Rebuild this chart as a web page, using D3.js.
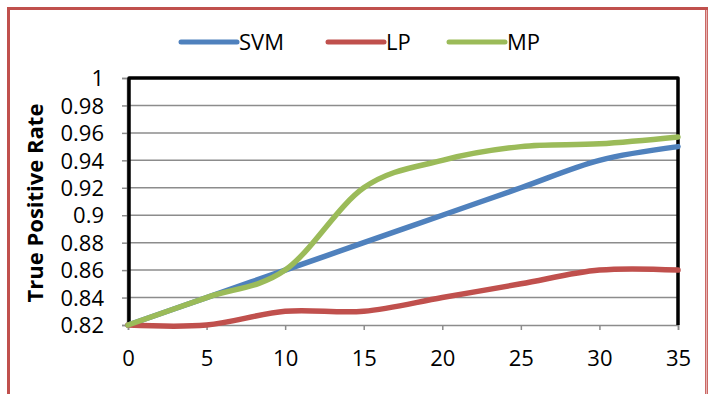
<!DOCTYPE html>
<html>
<head>
<meta charset="utf-8">
<script src="https://cdn.jsdelivr.net/npm/d3@7"></script>
<style>
  html, body { margin: 0; padding: 0; background: #fff; }
  svg { display: block; }
  text { font-family: "Open Sans", "Liberation Sans", sans-serif; fill: #000; }
</style>
</head>
<body>
<svg id="chart" width="708" height="394"></svg>
<script>
// Detection rate versus step count for three classifiers
const xValues = [0, 5, 10, 15, 20, 25, 30, 35];
const svmValues = [0.82, 0.84, 0.86, 0.88, 0.90, 0.92, 0.94, 0.95];
const lpValues  = [0.82, 0.82, 0.83, 0.83, 0.84, 0.85, 0.86, 0.86];
const mpValues  = [0.82, 0.84, 0.86, 0.92, 0.94, 0.95, 0.952, 0.957];
const seriesNames = ["SVM", "LP", "MP"];
const seriesColors = ["#4F81BD", "#C0504D", "#9BBB59"];
const yTicks = [0.82, 0.84, 0.86, 0.88, 0.9, 0.92, 0.94, 0.96, 0.98, 1];
const xTicks = [0, 5, 10, 15, 20, 25, 30, 35];
const yTitle = "True Positive Rate";

const seriesList = [svmValues, lpValues, mpValues];

const svg = d3.select("#chart");

// outer frame
svg.append("rect")
  .attr("x", 8.5).attr("y", 8.5)
  .attr("width", 698).attr("height", 400)
  .attr("fill", "none")
  .attr("stroke", "#C0504D")
  .attr("stroke-width", 3);
svg.append("line")
  .attr("x1", 706.5).attr("x2", 706.5).attr("y1", 10).attr("y2", 394)
  .attr("stroke", "#e8b4b3").attr("stroke-width", 1.5);

const plotL = 128, plotR = 678, plotT = 78, plotB = 325;

const x = d3.scaleLinear().domain([0, 35]).range([plotL, plotR]);
const y = d3.scaleLinear().domain([0.82, 1]).range([plotB, plotT]);

// horizontal gridlines
svg.append("g")
  .selectAll("line")
  .data(yTicks.slice(1))
  .join("line")
  .attr("x1", plotL).attr("x2", plotR)
  .attr("y1", d => y(d)).attr("y2", d => y(d))
  .attr("stroke", "#8c8c8c").attr("stroke-width", 1.5);

// y axis
const yAxis = svg.append("g")
  .attr("transform", `translate(${plotL - 1},0)`)
  .call(d3.axisLeft(y).tickValues(yTicks).tickFormat(d3.format("")).tickSize(5).tickPadding(18));
yAxis.select(".domain").attr("stroke", "#8c8c8c").attr("stroke-width", 1.5);
yAxis.selectAll(".tick line").attr("stroke", "#8c8c8c").attr("stroke-width", 1.5);
yAxis.selectAll(".tick text")
  .style("font-family", "'Open Sans', sans-serif")
  .style("font-size", "22px")
  .attr("dy", "0.35em")
  .attr("fill", "#000");

// x axis
const xAxis = svg.append("g")
  .attr("transform", `translate(0,${plotB})`)
  .call(d3.axisBottom(x).tickValues(xTicks).tickFormat(d3.format("d")).tickSize(5).tickPadding(20));
xAxis.select(".domain").attr("stroke", "#8c8c8c").attr("stroke-width", 1.5);
xAxis.selectAll(".tick line").attr("stroke", "#8c8c8c").attr("stroke-width", 1.5);
xAxis.selectAll(".tick text")
  .style("font-family", "'Open Sans', sans-serif")
  .style("font-size", "22px")
  .attr("fill", "#000");

// plot border (top, right, left)
svg.append("path")
  .attr("d", `M${plotL + 1},${plotB} L${plotL + 1},${plotT} L${plotR},${plotT} L${plotR},${plotB}`)
  .attr("fill", "none")
  .attr("stroke", "#000")
  .attr("stroke-width", 3.5)
  .attr("stroke-linejoin", "round");

// series lines
const line = d3.line()
  .x((d, i) => x(xValues[i]))
  .y(d => y(d))
  .curve(d3.curveCatmullRom.alpha(0));

svg.append("g")
  .selectAll("path")
  .data(seriesList)
  .join("path")
  .attr("d", d => line(d))
  .attr("fill", "none")
  .attr("stroke", (d, i) => seriesColors[i])
  .attr("stroke-width", 5.5)
  .attr("stroke-linecap", "round")
  .attr("stroke-linejoin", "round");

// y axis title
svg.append("text")
  .attr("transform", "translate(43,203) rotate(-90)")
  .attr("text-anchor", "middle")
  .style("font-size", "22px")
  .style("font-weight", "bold")
  .text(yTitle);

// legend
const legendX = [181, 328, 449];
const legend = svg.append("g")
  .selectAll("g")
  .data(seriesNames)
  .join("g")
  .attr("transform", (d, i) => `translate(${legendX[i]},42)`);
legend.append("line")
  .attr("x1", 0).attr("x2", 56)
  .attr("y1", 0).attr("y2", 0)
  .attr("stroke", (d, i) => seriesColors[i])
  .attr("stroke-width", 5)
  .attr("stroke-linecap", "round");
legend.append("text")
  .attr("x", 58)
  .attr("y", 0)
  .attr("dy", "0.36em")
  .style("font-size", "22px")
  .text(d => d);
</script>
</body>
</html>
